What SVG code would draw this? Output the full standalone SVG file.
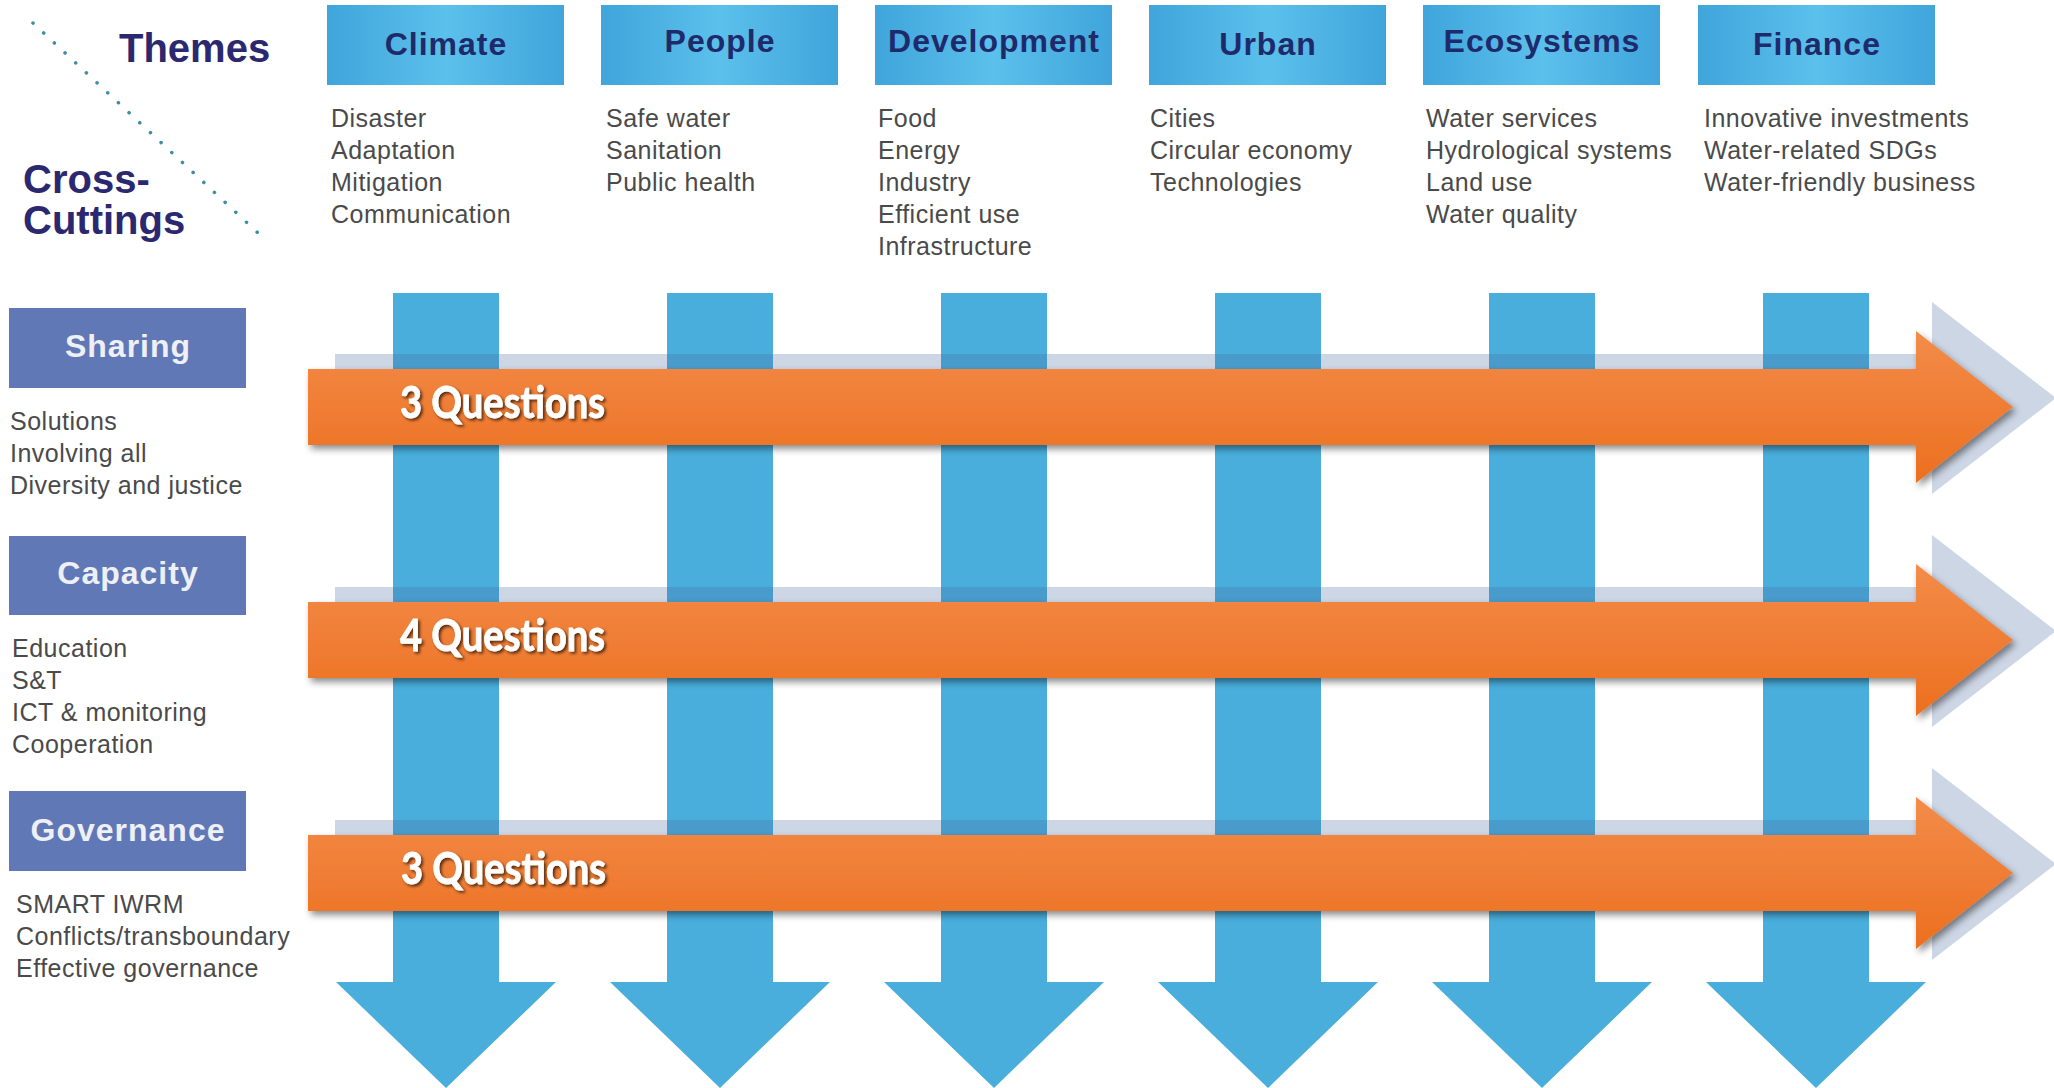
<svg xmlns="http://www.w3.org/2000/svg" width="2054" height="1088" viewBox="0 0 2054 1088">
<defs>
<linearGradient id="themeGrad" x1="0" y1="0" x2="1" y2="0">
<stop offset="0" stop-color="#3fa5db"/>
<stop offset="0.5" stop-color="#5cc0ec"/>
<stop offset="1" stop-color="#3fa5db"/>
</linearGradient>
<linearGradient id="orangeGrad" x1="0" y1="0" x2="0" y2="1">
<stop offset="0" stop-color="#f38c4a"/>
<stop offset="1" stop-color="#ec6f1f"/>
</linearGradient>
<filter id="arrowShadow" x="-5%" y="-30%" width="110%" height="170%">
<feDropShadow dx="3" dy="4" stdDeviation="3.5" flood-color="#000" flood-opacity="0.45"/>
</filter>
<filter id="textShadow" x="-10%" y="-30%" width="120%" height="160%">
<feDropShadow dx="2" dy="2" stdDeviation="1.5" flood-color="#000" flood-opacity="0.65"/>
</filter>
<style>
.title{font-family:"Liberation Sans",Arial,sans-serif;font-weight:bold;font-size:40px;fill:#2b2870;}
.thbox{fill:url(#themeGrad);}
.thlabel{font-family:"Liberation Sans",Arial,sans-serif;font-weight:bold;font-size:32px;letter-spacing:1px;fill:#1f2a6b;text-anchor:middle;}
.item{font-family:"Liberation Sans",Arial,sans-serif;font-size:25px;letter-spacing:0.5px;fill:#4a4a4a;}
.ccbox{fill:#6078b6;}
.cclabel{font-family:"Liberation Sans",Arial,sans-serif;font-weight:bold;font-size:32px;letter-spacing:1px;fill:#eef0f6;text-anchor:middle;}
.varrow{fill:#49aedc;}
.larrow{fill:#46679e;fill-opacity:0.27;}
.oarrow{fill:url(#orangeGrad);filter:url(#arrowShadow);}
.qtext{font-family:Lato,"Open Sans",sans-serif;font-weight:bold;font-size:44px;fill:#fff;stroke:#fff;stroke-width:0.8px;filter:url(#textShadow);}
</style>
</defs>
<rect width="2054" height="1088" fill="#fff"/>

<g id="corner">
<line x1="33" y1="23" x2="258" y2="233" stroke="#3d8e9e" stroke-width="3.5" stroke-dasharray="0.1 14.5" stroke-linecap="round"/>
<text class="title" x="119" y="62">Themes</text>
<text class="title" x="23" y="193">Cross-</text>
<text class="title" x="23" y="234">Cuttings</text>
</g>

<g id="connectors">
<g id="vertical-arrows">
<path class="varrow" d="M393,293H499V982H556L446,1088L336,982H393Z"/>
<path class="varrow" d="M667,293H773V982H830L720,1088L610,982H667Z"/>
<path class="varrow" d="M941,293H1047V982H1104L994,1088L884,982H941Z"/>
<path class="varrow" d="M1215,293H1321V982H1378L1268,1088L1158,982H1215Z"/>
<path class="varrow" d="M1489,293H1595V982H1652L1542,1088L1432,982H1489Z"/>
<path class="varrow" d="M1763,293H1869V982H1926L1816,1088L1706,982H1763Z"/>
</g>
<g id="light-arrows">
<path class="larrow" d="M335,354H1932V302L2056,398L1932,494V441H335Z"/>
<path class="larrow" d="M335,587H1932V535L2056,631L1932,727V674H335Z"/>
<path class="larrow" d="M335,820H1932V768L2056,864L1932,960V907H335Z"/>
</g>
</g>

<g id="row-sharing-arrow">
<path class="oarrow" d="M308,369H1916V331L2013,407L1916,483V445H308Z"/>
<text class="qtext" x="400" y="418" textLength="205" lengthAdjust="spacingAndGlyphs">3 Questions</text>
</g>
<g id="row-capacity-arrow">
<path class="oarrow" d="M308,602H1916V564L2013,640L1916,716V678H308Z"/>
<text class="qtext" x="400" y="651" textLength="205" lengthAdjust="spacingAndGlyphs">4 Questions</text>
</g>
<g id="row-governance-arrow">
<path class="oarrow" d="M308,835H1916V797L2013,873L1916,949V911H308Z"/>
<text class="qtext" x="401" y="884" textLength="205" lengthAdjust="spacingAndGlyphs">3 Questions</text>
</g>

<g id="theme-climate">
<rect class="thbox" x="327" y="5" width="237" height="80"/>
<text class="thlabel" x="446" y="55">Climate</text>
<text class="item" x="331" y="127">Disaster</text>
<text class="item" x="331" y="159">Adaptation</text>
<text class="item" x="331" y="191">Mitigation</text>
<text class="item" x="331" y="223">Communication</text>
</g>
<g id="theme-people">
<rect class="thbox" x="601" y="5" width="237" height="80"/>
<text class="thlabel" x="720" y="52">People</text>
<text class="item" x="606" y="127">Safe water</text>
<text class="item" x="606" y="159">Sanitation</text>
<text class="item" x="606" y="191">Public health</text>
</g>
<g id="theme-development">
<rect class="thbox" x="875" y="5" width="237" height="80"/>
<text class="thlabel" x="994" y="52">Development</text>
<text class="item" x="878" y="127">Food</text>
<text class="item" x="878" y="159">Energy</text>
<text class="item" x="878" y="191">Industry</text>
<text class="item" x="878" y="223">Efficient use</text>
<text class="item" x="878" y="255">Infrastructure</text>
</g>
<g id="theme-urban">
<rect class="thbox" x="1149" y="5" width="237" height="80"/>
<text class="thlabel" x="1268" y="55">Urban</text>
<text class="item" x="1150" y="127">Cities</text>
<text class="item" x="1150" y="159">Circular economy</text>
<text class="item" x="1150" y="191">Technologies</text>
</g>
<g id="theme-ecosystems">
<rect class="thbox" x="1423" y="5" width="237" height="80"/>
<text class="thlabel" x="1542" y="52">Ecosystems</text>
<text class="item" x="1426" y="127">Water services</text>
<text class="item" x="1426" y="159">Hydrological systems</text>
<text class="item" x="1426" y="191">Land use</text>
<text class="item" x="1426" y="223">Water quality</text>
</g>
<g id="theme-finance">
<rect class="thbox" x="1698" y="5" width="237" height="80"/>
<text class="thlabel" x="1817" y="55">Finance</text>
<text class="item" x="1704" y="127">Innovative investments</text>
<text class="item" x="1704" y="159">Water-related SDGs</text>
<text class="item" x="1704" y="191">Water-friendly business</text>
</g>

<g id="cc-sharing">
<rect class="ccbox" x="9" y="308" width="237" height="80"/>
<text class="cclabel" x="128" y="357">Sharing</text>
<text class="item" x="10" y="430">Solutions</text>
<text class="item" x="10" y="462">Involving all</text>
<text class="item" x="10" y="494">Diversity and justice</text>
</g>
<g id="cc-capacity">
<rect class="ccbox" x="9" y="536" width="237" height="79"/>
<text class="cclabel" x="128" y="584">Capacity</text>
<text class="item" x="12" y="657">Education</text>
<text class="item" x="12" y="689">S&amp;T</text>
<text class="item" x="12" y="721">ICT &amp; monitoring</text>
<text class="item" x="12" y="753">Cooperation</text>
</g>
<g id="cc-governance">
<rect class="ccbox" x="9" y="791" width="237" height="80"/>
<text class="cclabel" x="128" y="841">Governance</text>
<text class="item" x="16" y="913">SMART IWRM</text>
<text class="item" x="16" y="945">Conflicts/transboundary</text>
<text class="item" x="16" y="977">Effective governance</text>
</g>
</svg>
